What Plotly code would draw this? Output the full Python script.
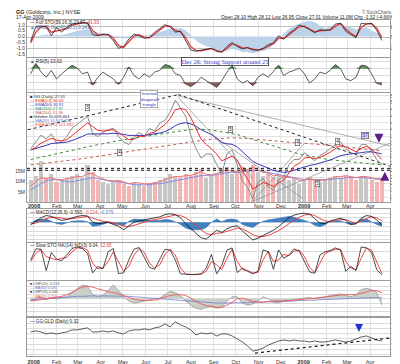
import plotly.graph_objects as go
import pandas as pd

# ---------------- data (weekly readings) ----------------
DATES = list(pd.date_range("2007-12-28", "2009-04-17", freq="W-FRI").strftime("%Y-%m-%d"))
MONTH_TICKS = list(pd.date_range("2008-01-01", "2009-04-01", freq="MS").strftime("%Y-%m-%d"))
MONTH_LABELS = ["<b>2008</b>", "Feb", "Mar", "Apr", "May", "Jun", "Jul", "Aug", "Sep", "Oct",
                "Nov", "Dec", "<b>2009</b>", "Feb", "Mar", "Apr"]
X_RANGE = ["2007-12-23", "2009-04-28"]

# top panel: oscillator (right scale) and blue histogram area (left scale)
P1_BLACK = [40, 80, 82, 80, 55, 78, 65, 80, 88, 90,
            92, 90, 58, 55, 60, 58, 41, 20, 25, 46,
            60, 55, 48, 50, 65, 75, 86, 80, 65, 68,
            42, 15, 12, 14, 17, 20, 11, 9, 25, 36,
            25, 18, 22, 15, 15, 20, 30, 35, 55, 45,
            62, 72, 85, 80, 72, 63, 72, 70, 72, 88,
            90, 68, 58, 50, 90, 88, 90, 70, 42]
P1_RED = [35, 65, 80, 81, 65, 68, 70, 75, 85, 89,
          91, 91, 70, 57, 58, 59, 48, 28, 22, 38,
          54, 58, 51, 49, 60, 71, 82, 82, 70, 66,
          50, 25, 14, 13, 16, 19, 14, 10, 20, 32,
          28, 21, 21, 17, 15, 18, 26, 33, 48, 48,
          57, 68, 80, 82, 75, 66, 69, 70, 71, 82,
          89, 74, 62, 53, 78, 88, 89, 76, 50]
P1_AREA = [-0.1, 0.0, 0.1, 0.15, 0.1, 0.1, 0.1, 0.2, 0.35, 0.45,
           0.55, 0.6, 0.45, 0.3, 0.2, 0.15, 0.05, -0.1, -0.15, -0.1,
           0.0, 0.05, 0.05, 0.1, 0.2, 0.35, 0.5, 0.65, 0.7, 0.7,
           0.5, 0.1, -0.3, -0.6, -0.8, -0.9, -1.1, -1.3, -1.2, -1.0,
           -1.1, -1.3, -1.3, -1.4, -1.3, -1.2, -1.1, -0.6, -0.2, 0.2,
           0.6, 0.9, 1.1, 1.25, 1.3, 1.2, 0.9, 0.7, 0.8, 0.95,
           1.0, 0.9, 0.75, 0.6, 0.7, 0.75, 0.5, 0.3, 0.05]

# second panel: RSI(5)
P2_RSI = [55, 85, 60, 45, 65, 40, 55, 68, 80, 72,
          55, 60, 22, 45, 60, 50, 40, 24, 45, 75,
          50, 40, 55, 45, 60, 65, 82, 78, 55, 50,
          25, 18, 28, 45, 35, 25, 15, 35, 60, 78,
          40, 28, 35, 20, 45, 55, 45, 62, 80, 50,
          60, 65, 72, 55, 28, 40, 60, 55, 65, 82,
          70, 40, 35, 45, 80, 78, 55, 27, 23]

# main panel
PRICE = [33.0, 35.5, 38.0, 36.5, 38.5, 35.0, 35.5, 37.5, 40.5, 42.0,
         43.5, 45.0, 38.5, 37.5, 39.0, 40.0, 40.5, 37.5, 35.5, 34.5,
         37.0, 39.0, 37.5, 40.5, 39.5, 42.5, 43.5, 46.5, 51.0, 48.0,
         45.0, 38.0, 33.0, 29.5, 31.0, 31.0, 27.0, 23.5, 31.0, 32.5,
         27.0, 21.0, 18.5, 14.5, 20.5, 22.0, 19.0, 17.5, 21.5, 22.5,
         27.0, 29.0, 29.0, 31.5, 30.0, 28.5, 30.5, 31.5, 33.0, 34.5,
         35.5, 33.0, 31.5, 31.0, 34.5, 34.5, 32.0, 29.0, 27.0]
EMA13 = [32.5, 33.5, 35.0, 35.8, 36.8, 36.2, 35.9, 36.3, 37.8, 39.3,
         40.8, 42.5, 41.2, 39.8, 39.5, 39.7, 40.0, 39.0, 37.6, 36.3,
         36.5, 37.6, 37.5, 38.7, 39.1, 40.6, 41.9, 44.1, 47.4, 47.8,
         47.5, 44.5, 40.5, 36.5, 34.5, 33.0, 31.0, 28.5, 29.3, 30.2,
         28.8, 24.8, 21.7, 18.1, 19.2, 20.5, 19.9, 18.9, 20.3, 21.4,
         24.0, 26.4, 27.6, 29.5, 29.8, 29.2, 29.8, 30.6, 31.7, 33.1,
         34.3, 33.7, 32.6, 31.8, 33.1, 33.8, 32.9, 31.0, 29.0]
EMA50 = [32.5, 33.0, 33.7, 34.2, 34.9, 35.0, 35.1, 35.4, 36.0, 36.7,
         37.5, 38.4, 38.4, 38.3, 38.3, 38.5, 38.7, 38.6, 38.3, 37.9,
         37.8, 37.9, 37.9, 38.2, 38.3, 38.8, 39.3, 40.2, 41.5, 42.3,
         42.6, 42.2, 41.3, 40.0, 39.1, 38.2, 36.9, 35.2, 34.8, 34.6,
         33.6, 31.9, 30.3, 28.3, 27.3, 26.6, 25.8, 24.9, 24.5, 24.2,
         24.4, 25.0, 25.5, 26.3, 26.8, 27.1, 27.6, 28.1, 28.8, 29.6,
         30.4, 30.8, 31.0, 31.1, 31.5, 31.8, 31.8, 31.5, 31.0]
MA150 = [29.0, 29.4, 29.8, 30.2, 30.6, 31.0, 31.4, 31.8, 32.2, 32.7,
         33.2, 33.7, 34.1, 34.5, 34.9, 35.3, 35.7, 36.0, 36.3, 36.6,
         36.9, 37.2, 37.5, 37.8, 38.1, 38.4, 38.7, 39.0, 39.3, 39.6,
         39.9, 40.1, 40.2, 40.2, 40.1, 39.9, 39.6, 39.2, 38.9, 38.6,
         38.2, 37.6, 37.0, 36.3, 35.7, 35.1, 34.5, 33.8, 33.2, 32.6,
         32.0, 31.5, 31.0, 30.6, 30.2, 29.8, 29.5, 29.2, 28.9, 28.7,
         28.5, 28.3, 28.1, 27.9, 27.7, 27.6, 27.4, 27.2, 27.0]
MA200 = [27.0, 27.2, 27.4, 27.6, 27.8, 28.0, 28.2, 28.4, 28.7, 29.0,
         29.3, 29.6, 29.9, 30.2, 30.5, 30.8, 31.1, 31.4, 31.7, 32.0,
         32.3, 32.6, 32.9, 33.2, 33.5, 33.8, 34.1, 34.4, 34.7, 35.0,
         35.3, 35.6, 35.9, 36.1, 36.3, 36.5, 36.7, 36.8, 36.9, 37.0,
         37.0, 36.9, 36.8, 36.6, 36.4, 36.2, 36.0, 35.8, 35.6, 35.4,
         35.3, 35.2, 35.1, 35.0, 34.9, 34.8, 34.6, 34.4, 34.2, 34.0,
         33.8, 33.6, 33.4, 33.2, 33.0, 32.8, 32.6, 32.4, 32.2]
VOLUME_M = [11, 13, 20, 12, 14, 10, 11, 12, 13, 14,
            12, 18, 15, 11, 10, 9, 10, 11, 9, 8,
            10, 9, 8, 9, 10, 11, 12, 14, 13, 12,
            14, 13, 15, 16, 12, 13, 14, 16, 17, 14,
            15, 17, 16, 18, 15, 13, 14, 12, 13, 12,
            11, 12, 9, 11, 12, 11, 10, 11, 12, 13,
            12, 13, 12, 11, 13, 12, 11, 10, 12]
VOL_MA20_M = [6, 7.5, 9, 10.5, 11, 11, 10.5, 10, 10, 10.5,
              11, 11.5, 12, 11.5, 11, 10.5, 10, 10, 9.5, 9,
              8.5, 8.5, 8.5, 8.5, 9, 9, 9.5, 10, 10.5, 11,
              11.5, 12, 12.5, 13, 13, 13, 13.5, 14, 14.5, 14.5,
              14.5, 15, 15, 15.5, 15.5, 15, 14.5, 14, 13.5, 13,
              12.5, 12, 11.5, 11, 11, 11, 11, 11, 11, 11.5,
              11.5, 12, 12, 12, 12, 12, 11.5, 11.5, 11.5]
VOL_EMA_M = [8, 10, 12, 11.5, 12, 11, 11, 11.5, 12, 12.5,
             12.5, 14, 14, 12.5, 11.5, 10.5, 10.5, 10.5, 10, 9,
             9.5, 9.5, 9, 9, 9.5, 10, 11, 12, 12.5, 12.5,
             13, 13, 14, 15, 13.5, 13.5, 14, 15, 16, 15,
             15, 16, 16, 17, 16, 14.5, 14.5, 13, 13, 12.5,
             12, 12, 10.5, 11, 11.5, 11, 10.5, 11, 11.5, 12.5,
             12.5, 13, 12.5, 12, 12.5, 12.5, 12, 11, 11.5]

# drawn trendlines (start/end dates and prices)
TREND_UP_DATES, TREND_UP_PRICES = ["2007-12-24", "2008-07-15"], [40.0, 53.0]
TREND_DN_DATES, TREND_DN_PRICES = ["2008-07-15", "2009-04-28"], [53.0, 26.5]
GREY_LINES = [(["2008-07-15", "2008-10-24"], [52.0, 22.0]),
              (["2008-09-05", "2008-12-31"], [37.0, 14.5]),
              (["2008-07-15", "2009-04-28"], [52.5, 34.0]),
              (["2008-10-24", "2009-01-02"], [13.5, 35.0]),
              (["2008-10-24", "2009-04-28"], [13.5, 35.0])]
SUPPORT_LEVELS = [25.7, 25.0]
BOX_LABELS = ["3", "4", "5", "4", "5", "4", "ST"]
BOX_DATES = ["2008-03-14", "2008-04-27", "2008-09-24", "2008-12-24", "2009-01-20", "2009-02-16", "2009-03-25"]
BOX_PRICES = [48.3, 31.6, 40.2, 35.2, 20.0, 35.6, 37.7]
ARROW_DN_DATE, ARROW_DN_PRICE = ["2009-04-13"], [35.2]
ARROW_UP_DATE, ARROW_UP_PRICE = ["2009-04-21"], [24.4]

# MACD panel
MACD = [-0.6, 0.3, 1.0, 1.5, 1.3, 0.8, 0.4, 0.6, 1.0, 1.3,
        1.5, 1.4, 0.0, -0.3, -0.2, 0.0, -0.5, -0.9, -1.7, -0.8,
        0.0, 0.3, 0.5, 0.8, 0.9, 1.2, 1.7, 1.9, 1.7, 1.0,
        -0.3, -1.5, -2.5, -3.5, -3.8, -2.8, -1.8, -2.3, -1.5, -1.0,
        -0.8, -2.0, -3.0, -4.0, -3.6, -3.0, -2.5, -1.8, -1.0, 0.0,
        1.0, 1.6, 1.9, 2.0, 1.8, 0.8, -0.2, -0.3, 0.3, 0.6,
        0.9, 0.4, -0.5, -0.4, 0.9, 1.5, 1.3, 0.5, -0.6]
MACD_SIGNAL = [-0.4, -0.2, 0.3, 0.8, 1.1, 1.1, 0.9, 0.7, 0.8, 1.0,
               1.2, 1.3, 0.9, 0.5, 0.2, 0.1, -0.1, -0.4, -0.9, -1.0,
               -0.7, -0.3, 0.0, 0.3, 0.5, 0.8, 1.1, 1.4, 1.6, 1.5,
               1.0, 0.2, -0.8, -1.8, -2.6, -2.8, -2.5, -2.4, -2.1, -1.7,
               -1.3, -1.5, -2.1, -2.8, -3.2, -3.2, -3.0, -2.5, -1.9, -1.2,
               -0.3, 0.5, 1.1, 1.6, 1.8, 1.5, 0.8, 0.3, 0.1, 0.3,
               0.6, 0.6, 0.1, -0.2, 0.2, 0.8, 1.2, 1.0, 0.3]
MACD_HIST = [-0.2, 0.5, 0.7, 0.7, 0.2, -0.3, -0.5, -0.1, 0.2, 0.3,
             0.3, 0.1, -0.9, -0.8, -0.4, -0.1, -0.4, -0.5, -0.8, 0.2,
             0.7, 0.6, 0.5, 0.5, 0.4, 0.4, 0.6, 0.5, 0.1, -0.5,
             -1.3, -1.7, -1.7, -1.7, -1.2, 0.0, 0.7, 0.1, 0.6, 0.7,
             0.5, -0.5, -0.9, -1.2, -0.4, 0.2, 0.5, 0.7, 0.9, 1.2,
             1.3, 1.1, 0.8, 0.4, 0.0, -0.7, -1.0, -0.6, 0.2, 0.3,
             0.3, -0.2, -0.6, -0.2, 0.7, 0.7, 0.1, -0.5, -0.9]

# Slow stochastic
STO_K = [55, 89, 88, 22, 78, 58, 52, 70, 90, 95,
         90, 75, 15, 35, 28, 80, 90, 13, 15, 55,
         88, 93, 60, 32, 26, 55, 88, 85, 55, 12,
         10, 10, 10, 12, 30, 72, 12, 38, 85, 92,
         16, 30, 20, 12, 20, 86, 80, 26, 86, 60,
         70, 89, 82, 50, 18, 14, 70, 80, 84, 92,
         85, 20, 35, 22, 95, 92, 78, 25, 9]
STO_D = [50, 75, 87, 65, 60, 55, 60, 62, 80, 92,
         92, 85, 45, 28, 30, 50, 80, 50, 20, 35,
         70, 90, 78, 45, 30, 40, 72, 88, 70, 30,
         12, 10, 10, 11, 20, 50, 40, 25, 60, 88,
         50, 25, 22, 15, 16, 55, 82, 50, 55, 72,
         68, 82, 85, 65, 32, 16, 45, 75, 82, 88,
         88, 50, 30, 25, 60, 92, 85, 50, 13]

# CMF panel
CMF = [-0.05, 0.0, 0.05, -0.02, 0.02, 0.0, 0.03, 0.05, 0.15, 0.25,
       0.33, 0.3, 0.1, 0.05, 0.08, 0.2, 0.33, 0.2, 0.05, -0.05,
       -0.1, -0.08, -0.05, -0.02, 0.0, 0.02, 0.1, 0.18, 0.15, 0.08,
       -0.05, -0.15, -0.22, -0.25, -0.2, -0.18, -0.22, -0.2, -0.05, 0.05,
       0.05, -0.1, -0.15, -0.12, -0.05, 0.05, 0.0, -0.08, -0.1, -0.05,
       -0.05, -0.02, 0.0, 0.02, 0.03, 0.0, 0.02, 0.05, 0.08, 0.1,
       0.12, 0.08, 0.05, 0.1, 0.22, 0.25, 0.22, 0.15, -0.15]
CMF_MA_RED = [-0.05, -0.04, -0.02, 0.0, 0.02, 0.04, 0.06, 0.1, 0.15, 0.22,
              0.28, 0.3, 0.28, 0.24, 0.2, 0.17, 0.15, 0.12, 0.08, 0.03,
              0.0, -0.03, -0.04, -0.04, -0.03, 0.0, 0.04, 0.08, 0.1, 0.1,
              0.08, 0.02, -0.06, -0.12, -0.16, -0.18, -0.2, -0.2, -0.15, -0.08,
              0.0, 0.02, -0.02, -0.06, -0.08, -0.08, -0.06, -0.05, -0.05, -0.05,
              -0.04, -0.03, -0.02, 0.0, 0.01, 0.02, 0.03, 0.04, 0.06, 0.08,
              0.09, 0.1, 0.1, 0.1, 0.13, 0.17, 0.2, 0.19, 0.15]
CMF_MA_BLUE = [-0.02, -0.01, 0.0, 0.01, 0.02, 0.03, 0.04, 0.05, 0.05, 0.06,
               0.06, 0.07, 0.07, 0.07, 0.07, 0.07, 0.07, 0.07, 0.06, 0.06,
               0.05, 0.04, 0.03, 0.02, 0.01, 0.0, -0.01, -0.02, -0.03, -0.04,
               -0.05, -0.06, -0.07, -0.08, -0.09, -0.1, -0.1, -0.1, -0.1, -0.1,
               -0.09, -0.09, -0.09, -0.08, -0.08, -0.08, -0.07, -0.07, -0.06, -0.06,
               -0.05, -0.05, -0.04, -0.04, -0.03, -0.03, -0.02, -0.02, -0.01, -0.01,
               0.0, 0.0, 0.01, 0.01, 0.02, 0.02, 0.03, 0.03, 0.03]

# bottom panel: GG:GLD ratio
RATIO = [0.42, 0.43, 0.42, 0.40, 0.41, 0.40, 0.41, 0.42, 0.44, 0.44,
         0.45, 0.46, 0.42, 0.42, 0.43, 0.42, 0.43, 0.41, 0.40, 0.43,
         0.44, 0.44, 0.45, 0.44, 0.46, 0.47, 0.50, 0.47, 0.52, 0.49,
         0.47, 0.44, 0.39, 0.41, 0.40, 0.41, 0.38, 0.40, 0.40, 0.38,
         0.35, 0.32, 0.28, 0.23, 0.24, 0.26, 0.29, 0.31, 0.33, 0.34,
         0.33, 0.34, 0.33, 0.33, 0.32, 0.33, 0.32, 0.32, 0.33, 0.34,
         0.33, 0.32, 0.33, 0.35, 0.37, 0.38, 0.36, 0.34, 0.33]
RATIO_TREND_DATES, RATIO_TREND_VALUES = ["2008-10-27", "2009-04-28"], [0.21, 0.36]
RATIO_ARROW_DATE, RATIO_ARROW_VALUE = ["2009-03-17"], [0.42]

# ---------------- layout geometry (pixels) ----------------
W, H = 400, 364
ML, MR, MT, MB = 15, 17, 12, 7
PW, PH = W - ML - MR, H - MT - MB
FONT = "Liberation Sans"


def py(ypix):
    return (H - MB - ypix) / PH


def px(xpix):
    return (xpix - ML) / PW


def dom(top, bottom):
    return [py(bottom), py(top)]


P1, P2, PM, PMACD, PSTO, PCMF, PBOT = (12, 50), (51, 86), (87, 199), (206, 240), (241, 279), (280, 316), (318, 357)

fig = go.Figure()


def sc(x, y, xa, ya, **kw):
    fig.add_trace(go.Scatter(x=x, y=y, xaxis=xa, yaxis=ya, mode="lines", hoverinfo="skip", **kw))


n = len(DATES)
# --- panel 1
sc(DATES, P1_AREA, "x", "y", fill="tozeroy", fillcolor="#bcd3ea", line=dict(color="#a8c2de", width=0.5))
sc(DATES, P1_RED, "x", "y8", line=dict(color="#e23b3b", width=1.3))
sc(DATES, P1_BLACK, "x", "y8", line=dict(color="#222222", width=0.8))

# --- panel 2
sc(DATES, [70] * n, "x2", "y2", line=dict(width=0, color="rgba(0,0,0,0)"))
sc(DATES, [max(v, 70) for v in P2_RSI], "x2", "y2", fill="tonexty", fillcolor="#5e8e5e", line=dict(width=0, color="rgba(0,0,0,0)"))
sc(DATES, [30] * n, "x2", "y2", line=dict(width=0, color="rgba(0,0,0,0)"))
sc(DATES, [min(v, 30) for v in P2_RSI], "x2", "y2", fill="tonexty", fillcolor="#8e5e5e", line=dict(width=0, color="rgba(0,0,0,0)"))
sc(DATES, P2_RSI, "x2", "y2", line=dict(color="#333333", width=0.8))

# --- main panel: volume (y3, left) and price (y9, right)
vol_colors = ["#c6c6c6"] + ["#c6c6c6" if PRICE[i] >= PRICE[i - 1] else "#f2b4b4" for i in range(1, n)]
fig.add_trace(go.Bar(x=DATES, y=VOLUME_M, xaxis="x3", yaxis="y3", marker=dict(color=vol_colors, line=dict(width=0)),
                     width=5.5 * 86400000, hoverinfo="skip"))
sc(DATES, VOL_MA20_M, "x3", "y3", line=dict(color="#8a8ae0", width=1))
sc(DATES, VOL_EMA_M, "x3", "y3", line=dict(color="#f07070", width=1))

sc(DATES, MA200, "x3", "y9", line=dict(color="#c05a4a", width=1, dash="dot"))
sc(DATES, MA150, "x3", "y9", line=dict(color="#3c8c3c", width=1, dash="dot"))
for ds, ps in GREY_LINES:
    sc(ds, ps, "x3", "y9", line=dict(color="#8c8c8c", width=0.7))
sc(TREND_UP_DATES, TREND_UP_PRICES, "x3", "y9", line=dict(color="#222222", width=1, dash="dot"))
sc(TREND_DN_DATES, TREND_DN_PRICES, "x3", "y9", line=dict(color="#222222", width=1, dash="dot"))
for lvl in SUPPORT_LEVELS:
    sc(X_RANGE, [lvl, lvl], "x3", "y9", line=dict(color="#111111", width=1, dash="dot"))
sc(DATES, PRICE, "x3", "y9", line=dict(color="#8a8a8a", width=1))
sc(DATES, EMA50, "x3", "y9", line=dict(color="#3535b5", width=1))
sc(DATES, EMA13, "x3", "y9", line=dict(color="#ee2a2a", width=1))
fig.add_trace(go.Scatter(x=ARROW_DN_DATE, y=ARROW_DN_PRICE, xaxis="x3", yaxis="y9", mode="markers",
                         marker=dict(symbol="arrow-down", size=9, color="#5a1f8a"), hoverinfo="skip"))
fig.add_trace(go.Scatter(x=ARROW_UP_DATE, y=ARROW_UP_PRICE, xaxis="x3", yaxis="y9", mode="markers",
                         marker=dict(symbol="arrow-up", size=9, color="#5a1f8a"), hoverinfo="skip"))

# --- MACD
sc(DATES, MACD_HIST, "x4", "y4", fill="tozeroy", fillcolor="#3f80c0", line=dict(color="#2a64a0", width=0.5))
sc(DATES, MACD_SIGNAL, "x4", "y4", line=dict(color="#ee4444", width=1))
sc(DATES, MACD, "x4", "y4", line=dict(color="#111111", width=0.8))

# --- Slow STO
sc(DATES, STO_D, "x5", "y5", line=dict(color="#ee4444", width=1))
sc(DATES, STO_K, "x5", "y5", line=dict(color="#222222", width=0.8))

# --- CMF
sc(DATES, CMF, "x6", "y6", fill="tozeroy", fillcolor="#c9d0c9", line=dict(color="#7d857d", width=0.6))
sc(DATES, CMF_MA_BLUE, "x6", "y6", line=dict(color="#7a7ad0", width=0.8))
sc(DATES, CMF_MA_RED, "x6", "y6", line=dict(color="#ee5555", width=0.9))

# --- ratio
sc(RATIO_TREND_DATES, RATIO_TREND_VALUES, "x7", "y7", line=dict(color="#111111", width=1.2, dash="dot"))
sc(DATES, RATIO, "x7", "y7", line=dict(color="#333333", width=0.8))
fig.add_trace(go.Scatter(x=RATIO_ARROW_DATE, y=RATIO_ARROW_VALUE, xaxis="x7", yaxis="y7", mode="markers",
                         marker=dict(symbol="arrow-down", size=8, color="#2233dd"), hoverinfo="skip"))

# ---------------- axes ----------------
TICKFONT = dict(size=5, color="#333333", family=FONT)


def xax(anchor, labels):
    d = dict(type="date", range=X_RANGE, domain=[0, 1], anchor=anchor, tickvals=MONTH_TICKS, ticktext=MONTH_LABELS,
             showticklabels=labels, showgrid=True, gridcolor="#e3e3e3", gridwidth=1, showline=True, mirror=True,
             linecolor="#9a9a9a", linewidth=1, ticks="", zeroline=False, tickfont=dict(size=5.5, color="#333", family=FONT),
             fixedrange=True)
    return d


def yax(panel, rng, vals, texts, anchor, side="right", grid=True):
    return dict(domain=dom(*panel), range=rng, side=side, anchor=anchor, tickvals=vals, ticktext=texts,
                showgrid=grid, gridcolor="#dcdcdc", showline=True, mirror=True, linecolor="#9a9a9a", linewidth=1,
                zeroline=False, ticks="", tickfont=TICKFONT, fixedrange=True)


layout = dict(width=W, height=H, margin=dict(l=ML, r=MR, t=MT, b=MB), paper_bgcolor="white", plot_bgcolor="white",
              showlegend=False, hovermode=False, bargap=0)
layout["xaxis"] = xax("y", False)
for k, lab in zip(range(2, 8), [False, False, False, False, False, True]):
    d = xax("y%d" % k, lab)
    d["matches"] = "x"
    layout["xaxis%d" % k] = d

layout["yaxis"] = yax(P1, [-1.75, 1.42], [-1.5, -1.0, -0.5, 0.0, 0.5, 1.0], ["-1.5", "-1.0", "-0.5", "0.0", "0.5", "1.0"],
                      "x", side="left", grid=False)
layout["yaxis8"] = dict(overlaying="y", side="right", anchor="x", range=[-4.5, 99.1], tickvals=[20, 50, 80],
                        ticktext=["20", "50", "80"], showgrid=True, gridcolor="#bdbdbd", zeroline=False, ticks="",
                        tickfont=TICKFONT, showline=False, fixedrange=True)
layout["yaxis2"] = yax(P2, [1.4, 101.4], [10, 30, 50, 70, 90], ["10", "30", "50", "70", "90"], "x2")
layout["yaxis3"] = yax(PM, [0, 53.5], [5, 10, 15], ["5M", "10M", "15M"], "x3", side="left", grid=False)
price_ticks = [15 + 2.5 * i for i in range(16)]
layout["yaxis9"] = dict(overlaying="y3", side="right", anchor="x3", range=[13.2, 53.58], tickvals=price_ticks,
                        ticktext=["%.1f" % v for v in price_ticks], showgrid=True, gridcolor="#e3e3e3", zeroline=False,
                        ticks="", tickfont=dict(size=4.6, color="#333", family=FONT), showline=False, fixedrange=True)
layout["yaxis4"] = yax(PMACD, [-4.47, 2.98], [2, 1, 0, -1, -2, -3, -4], ["2", "1", "0", "-1", "-2", "-3", "-4"], "x4")
layout["yaxis4"]["tickfont"] = dict(size=4.0, color="#333", family=FONT)
layout["yaxis5"] = yax(PSTO, [-7, 107], [20, 50, 80], ["20", "50", "80"], "x5")
cmf_ticks = [-0.3, -0.2, -0.1, 0.0, 0.1, 0.2, 0.3, 0.4]
layout["yaxis6"] = yax(PCMF, [-0.408, 0.423], cmf_ticks, ["%.1f" % v for v in cmf_ticks], "x6")
layout["yaxis6"]["tickfont"] = dict(size=3.8, color="#333", family=FONT)
ratio_ticks = [0.20, 0.25, 0.30, 0.35, 0.40, 0.45, 0.50, 0.55]
layout["yaxis7"] = yax(PBOT, [0.181, 0.558], ratio_ticks, ["%.2f" % v for v in ratio_ticks], "x7")
layout["yaxis7"]["tickfont"] = dict(size=4.2, color="#333", family=FONT)
fig.update_layout(**layout)

# ---------------- annotations ----------------
ann = []


def txt(xpix, ypix, text, size=5, color="#222222", anchor="left", **kw):
    ann.append(dict(x=px(xpix), y=py(ypix), xref="paper", yref="paper", text=text, showarrow=False, xanchor=anchor,
                    yanchor="middle", font=dict(size=size, color=color, family=kw.pop("family", FONT)), **kw))


txt(2, 3.5, "<b>GG</b> (Goldcorp, Inc.) NYSE", size=5.5)
txt(2, 9, "17-Apr-2009", size=5)
txt(396, 3.5, "© StockCharts.com", size=4.5, color="#555", anchor="right")
txt(396, 9, "Open 28.10 High 28.12 Low 26.95 Close 27.01 Volume 11.0M Chg -1.32 (-4.66%) <span style='color:#c00'>▼</span>",
    size=4.8, anchor="right")

# month labels under the price panel
for d, lab in zip(MONTH_TICKS, MONTH_LABELS):
    ann.append(dict(x=d, xref="x3", y=py(203), yref="paper", text=lab, showarrow=False, xanchor="center",
                    yanchor="middle", font=dict(size=5.5, color="#333", family=FONT)))

txt(16, 14.5, "— Full STO(39,16,3) 23.87, <span style='color:#e23b3b'>41.93</span>", size=4.6)
txt(16, 19.5, "<span style='color:#5b84b8'>▲</span> MACD Hist(40,80,1) 0.241", size=4.6, color="#4a6fa0")
txt(16, 54.5, "<span style='color:#3b6b3b'>▲</span> RSI(5) 23.03", size=4.6)

main_leg = [("■ GG (Daily) 27.01", "#333"), ("— EMA(13) 30.06", "#e22"), ("— EMA(50) 30.91", "#33b"),
            ("··· MA(150) 27.37", "#383"), ("··· MA(200) 31.96", "#b54"), ("■ Volume 11,023,401", "#333"),
            ("— MA(20) 10,523,723", "#66c"), ("— EMA(13) 11,101,882", "#e55")]
for i, (t, c) in enumerate(main_leg):
    txt(16, 91 + 4.0 * i, t, size=4.2, color=c)

txt(16, 209.5, "— MACD(12,26,9) -0.593, <span style='color:#e44'>-0.214</span>, <span style='color:#3f80c0'>-0.379</span>", size=4.6)
txt(16, 244, "— Slow STO %K(14) %D(3) 9.04, <span style='color:#e44'>12.65</span>", size=4.6)
cmf_leg = [("■ CMF(20) -0.153", "#555"), ("— MA(60) 0.031", "#66c"), ("■ CMF(40) 0.045", "#555"), ("— MA(20) 0.150", "#e44")]
for i, (t, c) in enumerate(cmf_leg):
    txt(16, 282.8 + 4.4 * i, t, size=3.7, color=c)
txt(16, 321.5, "— GG:GLD (Daily) 0.32", size=4.6)

# callout boxes
ann.append(dict(x=px(215.5), y=py(50.5), xref="paper", yref="paper", text="Dec 26: Strong Support around 25",
                showarrow=False, font=dict(size=6.3, color="#2f2fc8", family="Liberation Serif"),
                bgcolor="white", bordercolor="#333", borderwidth=0.8, borderpad=0))
ann.append(dict(x=px(139), y=py(84), xref="paper", yref="paper", text="Inverted<br>diagonal<br>triangle",
                showarrow=False, font=dict(size=4.2, color="#3030c0", family=FONT),
                bgcolor="white", bordercolor="#777", borderwidth=0.6, borderpad=0.5))
for lab, d, p in zip(BOX_LABELS, BOX_DATES, BOX_PRICES):
    st = lab == "ST"
    ann.append(dict(x=d, y=p, xref="x3", yref="y9", text=lab, showarrow=False,
                    font=dict(size=4.6, color="#2222cc" if st else "#222", family=FONT),
                    bgcolor="#dcdcf6" if st else "white", bordercolor="#444", borderwidth=0.6, borderpad=0.6))

fig.update_layout(annotations=ann)
fig.write_html("out.html")
